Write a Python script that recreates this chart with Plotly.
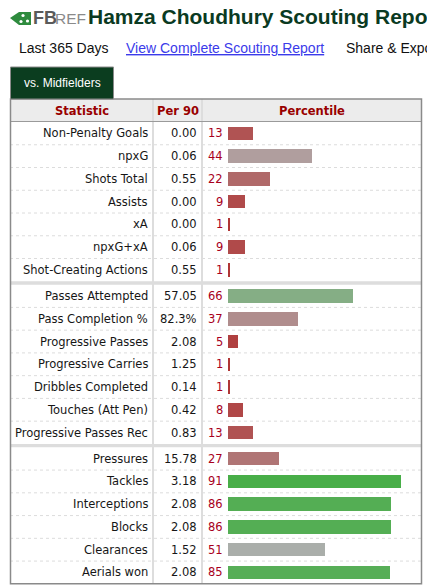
import plotly.graph_objects as go

W, H = 427, 587

# ---------------- data ----------------
statistics = [
    "Non-Penalty Goals", "npxG", "Shots Total", "Assists", "xA", "npxG+xA",
    "Shot-Creating Actions",
    "Passes Attempted", "Pass Completion %", "Progressive Passes",
    "Progressive Carries", "Dribbles Completed", "Touches (Att Pen)",
    "Progressive Passes Rec",
    "Pressures", "Tackles", "Interceptions", "Blocks", "Clearances", "Aerials won",
]
per90 = [
    "0.00", "0.06", "0.55", "0.00", "0.00", "0.06", "0.55",
    "57.05", "82.3%", "2.08", "1.25", "0.14", "0.42", "0.83",
    "15.78", "3.18", "2.08", "2.08", "1.52", "2.08",
]
percentiles = [13, 44, 22, 9, 1, 9, 1,
               66, 37, 5, 1, 1, 8, 13,
               27, 91, 86, 86, 51, 85]
section_sizes = [7, 7, 6]
headers = ["Statistic", "Per 90", "Percentile"]
title_text = "Hamza Choudhury Scouting Report"
subtitle_items = ["Last 365 Days", "View Complete Scouting Report", "Share & Export"]
tab_label = "vs. Midfielders"

# ---------------- helpers ----------------
def px(x):
    return x / W


def py(y):
    return 1 - y / H


def pct_color(p):
    if p < 50:
        v = 172 - 2.4 * (50 - p)
        return f"rgb(176,{v:.0f},{v:.0f})"
    v = 172 - 2.44 * (p - 50)
    return f"rgb({v:.0f},174,{v:.0f})"


GAP = 0.15
sec_of_row = []
for s, n in enumerate(section_sizes):
    sec_of_row += [s] * n
ypos = [i + GAP * s for i, s in enumerate(sec_of_row)]
n_rows = len(statistics)
y_max = n_rows - 0.5 + GAP * (len(section_sizes) - 1)

TABLE_L, TABLE_R = 10, 422
TABLE_TOP, HEADER_BOT = 99, 122
ROW_H = 22.75
TABLE_BOT = HEADER_BOT + ROW_H * (y_max + 0.5)
COL1, COL2 = 153, 202

FONT_T = "DejaVu Sans, Verdana, sans-serif"
FONT_A = "Liberation Sans, Arial, sans-serif"
DARKRED = "#990000"

fig = go.Figure()

fig.add_trace(go.Bar(
    x=percentiles,
    y=ypos,
    orientation="h",
    width=0.59,
    marker=dict(color=[pct_color(p) for p in percentiles], line=dict(width=0)),
    hovertext=statistics,
    hoverinfo="text+x",
    showlegend=False,
))

shapes = []
annotations = []


def note(text, x, y, xanchor, size, color, family, yref="paper"):
    annotations.append(dict(text=text, xref="paper", yref=yref, x=x, y=y,
                            xanchor=xanchor, yanchor="middle", showarrow=False,
                            borderpad=0, font=dict(family=family, size=size, color=color)))


# header background
shapes.append(dict(type="rect", xref="paper", yref="paper",
                   x0=px(TABLE_L), x1=px(TABLE_R), y0=py(HEADER_BOT), y1=py(TABLE_TOP),
                   fillcolor="#ececec", line=dict(width=0), layer="below"))
# row separators (dotted) and section dividers
for i in range(n_rows - 1):
    if sec_of_row[i] == sec_of_row[i + 1]:
        yy = ypos[i] + 0.5
        shapes.append(dict(type="line", xref="paper", yref="y",
                           x0=px(TABLE_L), x1=px(TABLE_R), y0=yy, y1=yy,
                           line=dict(color="#dcdcdc", width=1, dash="dot"), layer="below"))
    else:
        y0 = ypos[i] + 0.5
        shapes.append(dict(type="rect", xref="paper", yref="y",
                           x0=px(TABLE_L), x1=px(TABLE_R), y0=y0, y1=y0 + GAP,
                           fillcolor="#dddddd", line=dict(width=0), layer="below"))
# column separators
for cx in (COL1, COL2):
    shapes.append(dict(type="line", xref="paper", yref="paper",
                       x0=px(cx), x1=px(cx), y0=py(TABLE_BOT), y1=py(TABLE_TOP),
                       line=dict(color="#dddddd", width=2), layer="below"))
# header bottom line
shapes.append(dict(type="line", xref="paper", yref="paper",
                   x0=px(TABLE_L), x1=px(TABLE_R), y0=py(HEADER_BOT - 0.5), y1=py(HEADER_BOT - 0.5),
                   line=dict(color="#9a9a9a", width=1)))
# table border
shapes.append(dict(type="rect", xref="paper", yref="paper",
                   x0=px(TABLE_L + 0.5), x1=px(TABLE_R - 0.5), y0=py(TABLE_BOT), y1=py(TABLE_TOP),
                   line=dict(color="#8a8a8a", width=1.5), fillcolor="rgba(0,0,0,0)"))
# tab
shapes.append(dict(type="rect", xref="paper", yref="paper",
                   x0=px(10.5), x1=px(113.5), y0=py(TABLE_TOP), y1=py(67),
                   fillcolor="#0b3d1f", line=dict(color="#8a8a8a", width=1)))
note(tab_label, px(62), py(83), "center", 12, "white", FONT_A)

# logo icon (green badge)
shapes.append(dict(type="path", xref="paper", yref="paper",
                   path=(f"M {px(10)} {py(18)} L {px(19)} {py(12)} L {px(31)} {py(12)} "
                         f"L {px(31)} {py(25)} L {px(19)} {py(25)} Z"),
                   fillcolor="#2e8b3e", line=dict(width=0)))
for cx, cy in ((23, 15.5), (27.5, 21), (21, 21.5)):
    shapes.append(dict(type="circle", xref="paper", yref="paper",
                       x0=px(cx - 1.6), x1=px(cx + 1.6), y0=py(cy + 1.6), y1=py(cy - 1.6),
                       fillcolor="white", line=dict(width=0)))
note("<b>FB</b>", px(31.5), py(18.5), "left", 18, "#5a5a5a", FONT_A)
note("REF", px(54), py(18.5), "left", 15.5, "#8a8a8a", FONT_A)

# title
note(f"<b>{title_text}</b>", px(87), py(16), "left", 21, "#0a3a22", FONT_A)
# subtitle line
sub_x = [18, 125, 345]
for k, (t, sx) in enumerate(zip(subtitle_items, sub_x)):
    color = "#3b3bea" if k == 1 else "#111111"
    txt = f"<u>{t}</u>" if k == 1 else t
    note(txt, px(sx), py(48), "left", 14, color, FONT_A)

# header labels
for t, cx in zip(headers, [(TABLE_L + COL1) / 2, (COL1 + COL2) / 2, (COL2 + TABLE_R) / 2]):
    note(f"<b>{t}</b>", px(cx), py(111), "center", 11.5, DARKRED, FONT_T)

# table cells
for i in range(n_rows):
    note(statistics[i], px(149), ypos[i], "right", 11.5, "#161616", FONT_T, yref="y")
    note(per90[i], px(198), ypos[i], "right", 11.5, "#161616", FONT_T, yref="y")
    note(str(percentiles[i]), px(223.5), ypos[i], "right", 11.5, "#a8001c", FONT_T, yref="y")

fig.update_layout(
    width=W, height=H,
    margin=dict(l=0, r=0, t=0, b=0),
    paper_bgcolor="white", plot_bgcolor="rgba(0,0,0,0)",
    xaxis=dict(domain=[px(228), px(418)], range=[0, 100], visible=False, fixedrange=True),
    yaxis=dict(domain=[py(TABLE_BOT), py(HEADER_BOT)], range=[y_max, -0.5],
               visible=False, fixedrange=True),
    shapes=shapes,
    annotations=annotations,
    bargap=0,
)

fig.write_html("out.html")
